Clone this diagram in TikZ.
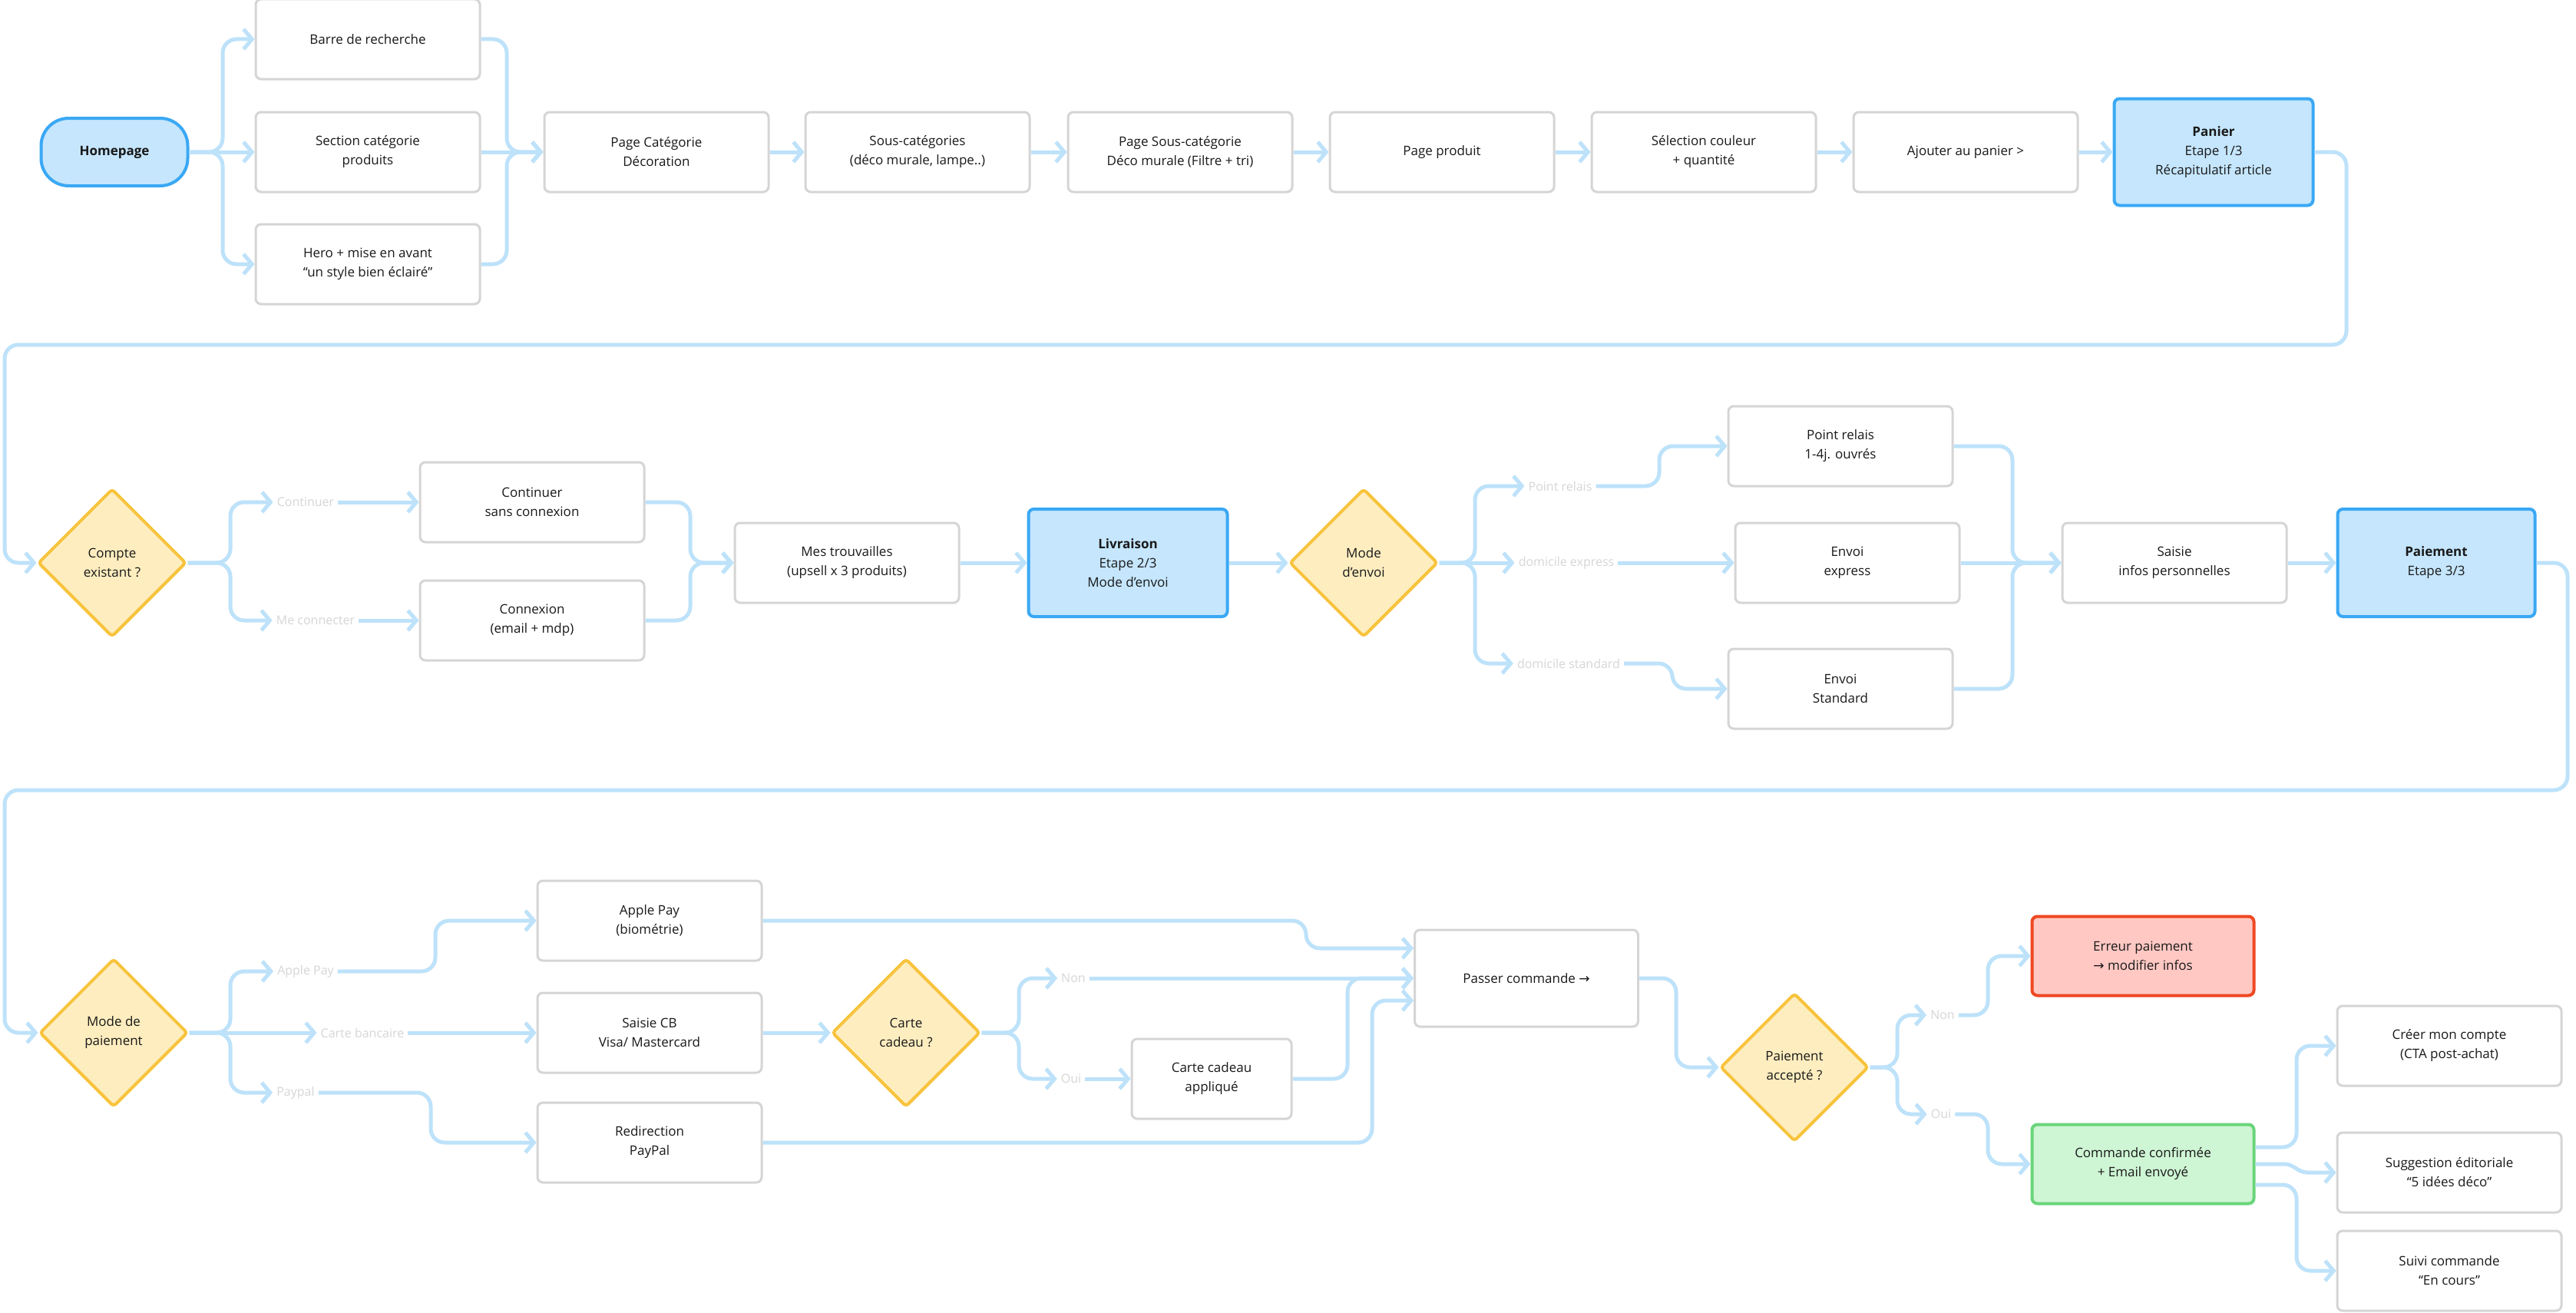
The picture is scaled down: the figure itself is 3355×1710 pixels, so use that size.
\documentclass[tikz,border=0pt]{standalone}
\usepackage{fontspec}
\setmainfont{Open Sans}
\newfontfamily\symf{DejaVu Sans}
\usetikzlibrary{arrows.meta,shapes.geometric,calc}
\definecolor{lnk}{HTML}{BDE2FA}
\definecolor{boxd}{HTML}{D5D5D5}
\definecolor{bluef}{HTML}{C5E6FD}
\definecolor{blued}{HTML}{3AA8F4}
\definecolor{yelf}{HTML}{FEEDBF}
\definecolor{yeld}{HTML}{F8C33C}
\definecolor{redf}{HTML}{FFC8C3}
\definecolor{redd}{HTML}{EF4823}
\definecolor{grnf}{HTML}{CEF5D4}
\definecolor{grnd}{HTML}{6AD57B}
\definecolor{lblc}{HTML}{D6D6D6}
\tikzset{
  box/.style={draw=boxd, line width=3pt, fill=white, rounded corners=7pt,
    minimum width=292pt, minimum height=104pt, align=center, inner sep=2pt,
    font=\fontsize{17}{25}\selectfont, text=black!90},
  bluebox/.style={box, draw=blued, fill=bluef, line width=4pt},
  redbox/.style={box, draw=redd, fill=redf, line width=4pt, minimum width=289pt, minimum height=103pt},
  grnbox/.style={box, draw=grnd, fill=grnf, line width=4pt, minimum width=289pt, minimum height=103pt},
  dia/.style={diamond, aspect=1, draw=yeld, fill=yelf, line width=4pt,
    minimum width=193pt, minimum height=193pt, inner sep=0pt, align=center,
    rounded corners=4pt, font=\fontsize{17}{25}\selectfont, text=black!90},
  lbl/.style={text=lblc, font=\fontsize{16}{20}\selectfont, inner sep=5pt},
  conn/.style={draw=lnk, line width=5pt, rounded corners=18pt,
    -{Straight Barb[length=11pt,width=26pt]}},
}
\begin{document}
\begin{tikzpicture}[x=1pt,y=-1pt]
\fill[white] (0,0) rectangle (3355,1710);
\useasboundingbox (0,0) rectangle (3355,1710);

% ---------- Row 1 ----------
\node[bluebox, rounded corners=36pt, minimum width=191pt, minimum height=88pt, font=\fontsize{17}{25}\selectfont\bfseries] (home) at (149,198) {Homepage};
\node[box] (barre) at (479,51) {Barre de recherche};
\node[box] (section) at (479,198) {Section catégorie\\produits};
\node[box] (hero) at (479,344) {Hero + mise en avant\\“un style bien éclairé”};
\node[box] (pcat) at (855,198) {Page Catégorie\\Décoration};
\node[box] (souscat) at (1195,198) {Sous-catégories\\(déco murale, lampe..)};
\node[box] (psouscat) at (1537,198) {Page Sous-catégorie\\Déco murale (Filtre + tri)};
\node[box] (pprod) at (1878,198) {Page produit};
\node[box] (selcoul) at (2219,198) {Sélection couleur\\+ quantité};
\node[box] (ajout) at (2560,198) {Ajouter au panier >};
\node[bluebox, minimum width=259pt, minimum height=139pt] (panier) at (2883,198) {\textbf{Panier}\\Etape 1/3\\Récapitulatif article};

\draw[conn] (home.east) -- (290,198) |- (barre.west);
\draw[conn] (home.east) -- (section.west);
\draw[conn] (home.east) -- (290,198) |- (hero.west);
\draw[conn] (barre.east) -- (660,51) |- (pcat.west);
\draw[conn] (section.east) -- (pcat.west);
\draw[conn] (hero.east) -- (660,344) |- (pcat.west);
\draw[conn] (pcat.east) -- (souscat.west);
\draw[conn] (souscat.east) -- (psouscat.west);
\draw[conn] (psouscat.east) -- (pprod.west);
\draw[conn] (pprod.east) -- (selcoul.west);
\draw[conn] (selcoul.east) -- (ajout.west);
\draw[conn] (ajout.east) -- (panier.west);

% ---------- Row 2 ----------
\node[dia] (compte) at (146,733) {Compte\\existant ?};
\node[lbl] (lcont) at (398,654) {Continuer};
\node[lbl] (lconn) at (411,808) {Me connecter};
\node[box] (cont) at (693,654) {Continuer\\sans connexion};
\node[box] (connex) at (693,808) {Connexion\\(email + mdp)};
\node[box] (mes) at (1103,733) {Mes trouvailles\\(upsell x 3 produits)};
\node[bluebox, minimum width=259pt, minimum height=140pt] (livr) at (1469,733) {\textbf{Livraison}\\Etape 2/3\\Mode d’envoi};
\node[dia] (modeenv) at (1776,733) {Mode\\d’envoi};
\node[lbl] (lpr) at (2032,633) {Point relais};
\node[lbl] (lexp) at (2040,733) {domicile express};
\node[lbl] (lstd) at (2043,864) {domicile standard};
\node[box] (prelais) at (2397,581) {Point relais\\1-4j. ouvrés};
\node[box] (express) at (2406,733) {Envoi\\express};
\node[box] (standard) at (2397,897) {Envoi\\Standard};
\node[box] (saisie) at (2832,733) {Saisie\\infos personnelles};
\node[bluebox, minimum width=257pt, minimum height=140pt] (paiem) at (3173,733) {\textbf{Paiement}\\Etape 3/3};

\draw[conn] (panier.east) -- (3056,198) -- (3056,449) -- (6,449) -- (6,733) -- (compte.west);
\draw[conn] (compte.east) -- (300,733) |- (lcont.west);
\draw[conn] (lcont.east) -- (cont.west);
\draw[conn] (compte.east) -- (300,733) |- (lconn.west);
\draw[conn] (lconn.east) -- (connex.west);
\draw[conn] (cont.east) -- (899,654) |- (mes.west);
\draw[conn] (connex.east) -- (899,808) |- (mes.west);
\draw[conn] (mes.east) -- (livr.west);
\draw[conn] (livr.east) -- (modeenv.west);
\draw[conn] (modeenv.east) -- (1921,733) |- (lpr.west);
\draw[conn] (lpr.east) -- (2161,633) |- (prelais.west);
\draw[conn] (modeenv.east) -- (lexp.west);
\draw[conn] (lexp.east) -- (express.west);
\draw[conn] (modeenv.east) -- (1921,733) |- (lstd.west);
\draw[conn] (lstd.east) -- (2178,864) |- (standard.west);
\draw[conn] (prelais.east) -- (2621,581) |- (saisie.west);
\draw[conn] (express.east) -- (saisie.west);
\draw[conn] (standard.east) -- (2621,897) |- (saisie.west);
\draw[conn] (saisie.east) -- (paiem.west);

% ---------- Row 3 ----------
\node[dia] (modepai) at (148,1345) {Mode de\\paiement};
\node[lbl] (lap) at (398,1265) {Apple Pay};
\node[lbl] (lcb) at (472,1345) {Carte bancaire};
\node[lbl] (lpp) at (385,1423) {Paypal};
\node[box] (apple) at (846,1199) {Apple Pay\\(biométrie)};
\node[box] (cb) at (846,1345) {Saisie CB\\Visa/ Mastercard};
\node[box] (paypal) at (846,1488) {Redirection\\PayPal};
\node[dia] (cadeau) at (1180,1345) {Carte\\cadeau ?};
\node[lbl] (lnon) at (1398,1274) {Non};
\node[lbl] (loui) at (1395,1405) {Oui};
\node[box, minimum width=208pt] (appl) at (1578,1405) {Carte cadeau\\appliqué};
\node[box, minimum width=291pt, minimum height=126pt] (passer) at (1988,1274) {Passer commande {\symf →}};
\node[dia] (accept) at (2337,1390) {Paiement\\accepté ?};
\node[lbl] (lnon2) at (2530,1322) {Non};
\node[lbl] (loui2) at (2528,1451) {Oui};
\node[redbox] (erreur) at (2791,1245) {Erreur paiement\\{\symf →} modifier infos};
\node[grnbox] (confirm) at (2791,1516) {Commande confirmée\\+ Email envoyé};
\node[box] (creer) at (3190,1362) {Créer mon compte\\(CTA post-achat)};
\node[box] (sugg) at (3190,1527) {Suggestion éditoriale\\“5 idées déco”};
\node[box] (suivi) at (3190,1655) {Suivi commande\\“En cours”};

\draw[conn] (paiem.east) -- (3344,733) -- (3344,1029) -- (6,1029) -- (6,1345) -- (modepai.west);
\draw[conn] (modepai.east) -- (300,1345) |- (lap.west);
\draw[conn] (lap.east) -- (567,1265) |- (apple.west);
\draw[conn] (modepai.east) -- (lcb.west);
\draw[conn] (lcb.east) -- (cb.west);
\draw[conn] (modepai.east) -- (300,1345) |- (lpp.west);
\draw[conn] (lpp.east) -- (561,1423) |- (paypal.west);
\draw[conn] (cb.east) -- (cadeau.west);
\draw[conn] (cadeau.east) -- (1327,1345) |- (lnon.west);
\draw[conn] (lnon.east) -- (passer.west);
\draw[conn] (cadeau.east) -- (1327,1345) |- (loui.west);
\draw[conn] (loui.east) -- (appl.west);
\draw[conn] (appl.east) -- (1755,1405) |- (passer.west);
\draw[conn] (apple.east) -- (1701,1199) |- ($(passer.west)+(0,-39)$);
\draw[conn] (paypal.east) -- (1787,1488) |- ($(passer.west)+(0,29)$);
\draw[conn] (passer.east) -- (2183,1274) |- (accept.west);
\draw[conn] (accept.east) -- (2471,1390) |- (lnon2.west);
\draw[conn] (lnon2.east) -- (2589,1322) |- (erreur.west);
\draw[conn] (accept.east) -- (2471,1390) |- (loui2.west);
\draw[conn] (loui2.east) -- (2589,1451) |- (confirm.west);
\draw[conn] ($(confirm.east)+(0,-22)$) -- (2991,1494) |- (creer.west);
\draw[conn, rounded corners=0pt] (confirm.east) -- (2975,1516) to[out=0,in=180] (3005,1527) -- (sugg.west);
\draw[conn] ($(confirm.east)+(0,27)$) -- (2991,1543) |- (suivi.west);
\end{tikzpicture}
\end{document}
